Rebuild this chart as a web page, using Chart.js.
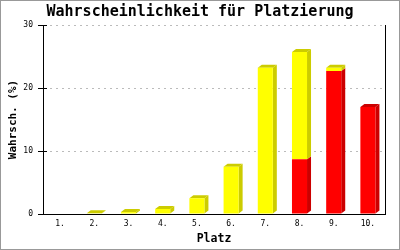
<!DOCTYPE html>
<html>
<head>
<meta charset="utf-8">
<script src="https://cdn.jsdelivr.net/npm/chart.js@4"></script>
<style>
html,body{margin:0;padding:0;background:#fff;}
canvas{display:block;}
</style>
</head>
<body>
<canvas id="c" width="400" height="250"></canvas>
<script>
const categories = ['1.', '2.', '3.', '4.', '5.', '6.', '7.', '8.', '9.', '10.'];
const redValues = [0, 0, 0, 0, 0, 0, 0, 8.7, 22.7, 17.0];
const yellowValues = [0, 0.1, 0.3, 0.8, 2.5, 7.5, 23.2, 17.0, 0.5, 0];
const yTicks = [0, 10, 20, 30];
const chartTitle = 'Wahrscheinlichkeit für Platzierung';
const xTitle = 'Platz';
const yTitle = 'Wahrsch. (%)';

const MONO = '"DejaVu Sans Mono", "Liberation Mono", monospace';

const threeD = {
  id: 'threeD',
  beforeDraw(chart) {
    const ctx = chart.ctx;
    ctx.save();
    ctx.fillStyle = '#fff';
    ctx.fillRect(0, 0, chart.width, chart.height);
    ctx.restore();
  },
  beforeDatasetsDraw(chart) {
    const ctx = chart.ctx;
    const dx = 4, dy = 3;
    const n = chart.data.labels.length;
    ctx.save();
    for (let i = 0; i < n; i++) {
      let topEl = null, topDs = null;
      chart.data.datasets.forEach((ds, di) => {
        if (!ds.data[i]) return;
        const el = chart.getDatasetMeta(di).data[i];
        const R = el.x + el.width / 2, T = el.y, B = el.base;
        ctx.fillStyle = ds.sideColor;
        ctx.beginPath();
        ctx.moveTo(R, T); ctx.lineTo(R + dx, T - dy);
        ctx.lineTo(R + dx, B - dy); ctx.lineTo(R, B);
        ctx.closePath(); ctx.fill();
        topEl = el; topDs = ds;
      });
      if (topEl) {
        const L = topEl.x - topEl.width / 2, R = topEl.x + topEl.width / 2, T = topEl.y;
        ctx.fillStyle = topDs.sideColor;
        ctx.beginPath();
        ctx.moveTo(L, T); ctx.lineTo(L + dx, T - dy);
        ctx.lineTo(R + dx, T - dy); ctx.lineTo(R, T);
        ctx.closePath(); ctx.fill();
      }
    }
    ctx.restore();
  },
  afterDraw(chart) {
    const ctx = chart.ctx;
    const a = chart.chartArea;
    const y = chart.scales.y;
    ctx.save();
    ctx.strokeStyle = '#000';
    ctx.lineWidth = 1;
    ctx.beginPath();
    ctx.moveTo(Math.round(a.right) + 0.5, a.top);
    ctx.lineTo(Math.round(a.right) + 0.5, a.bottom);
    yTicks.forEach(v => {
      const p = Math.round(y.getPixelForValue(v)) + 0.5;
      ctx.moveTo(a.left - 5, p);
      ctx.lineTo(a.left + 4, p);
    });
    ctx.stroke();
    ctx.strokeStyle = '#999';
    ctx.strokeRect(0.5, 0.5, chart.width - 1, chart.height - 1);
    ctx.restore();
  }
};

new Chart(document.getElementById('c'), {
  type: 'bar',
  data: {
    labels: categories,
    datasets: [
      { label: 'rot', data: redValues, backgroundColor: '#ff0000', sideColor: '#cc0000', borderWidth: 0 },
      { label: 'gelb', data: yellowValues, backgroundColor: '#ffff00', sideColor: '#cccc00', borderWidth: 0 }
    ]
  },
  options: {
    responsive: false,
    animation: false,
    devicePixelRatio: 1,
    barPercentage: 0.44,
    categoryPercentage: 1,
    layout: { padding: { left: 7, right: 7, top: 0, bottom: 0 } },
    plugins: {
      legend: { display: false },
      tooltip: { enabled: false },
      title: {
        display: true,
        text: chartTitle,
        color: '#000',
        font: { family: MONO, size: 15, weight: 'bold', lineHeight: 1.2 },
        padding: { top: 3, bottom: 4 }
      }
    },
    scales: {
      x: {
        stacked: true,
        grid: { display: false, drawTicks: false },
        border: { display: true, color: '#000', width: 1 },
        ticks: { color: '#000', font: { family: MONO, size: 8 }, padding: 5, maxRotation: 0, autoSkip: false },
        title: { display: true, text: xTitle, color: '#000', font: { family: MONO, size: 11.5, weight: 'bold' }, padding: { top: 0, bottom: 4 } },
        afterFit(s) { s.height = 36; }
      },
      y: {
        stacked: true,
        min: 0, max: 30,
        afterBuildTicks(s) { s.ticks = yTicks.map(v => ({ value: v })); },
        grid: { color: '#bbbbbb', lineWidth: 1, drawTicks: false },
        border: { display: true, color: '#000', width: 1, dash: [2, 4] },
        ticks: { color: '#000', font: { family: MONO, size: 8 }, padding: 10 },
        title: { display: true, text: yTitle, color: '#000', font: { family: MONO, size: 11, weight: 'bold' }, padding: { top: 0, bottom: 0 } },
        afterFit(s) { s.width = 36; }
      },
      yRight: {
        position: 'right',
        display: true,
        grid: { display: false, drawTicks: false },
        border: { display: false },
        ticks: { display: false },
        afterFit(s) { s.width = 8; }
      }
    }
  },
  plugins: [threeD]
});
</script>
</body>
</html>
